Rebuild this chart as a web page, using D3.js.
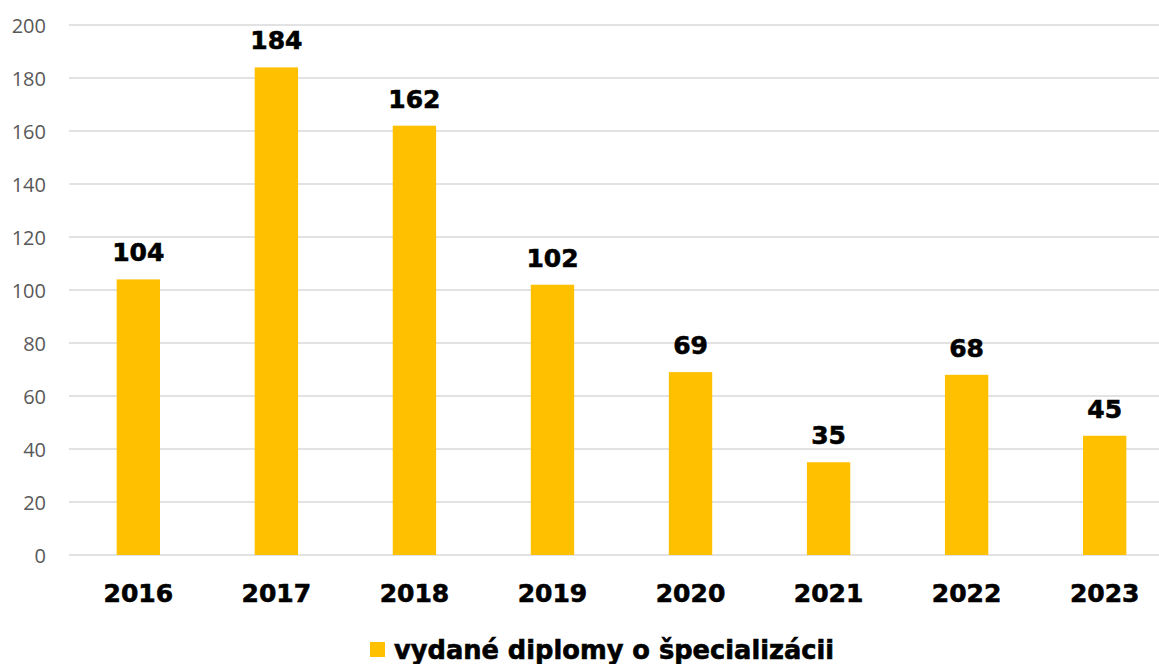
<!DOCTYPE html>
<html><head><meta charset="utf-8">
<script src="https://cdn.jsdelivr.net/npm/d3@7"></script>
<style>body{margin:0;background:#fff;overflow:hidden}svg{display:block}</style>
</head><body>
<script>
const categories = ["2016","2017","2018","2019","2020","2021","2022","2023"];
const values = [104,184,162,102,69,35,68,45];
const yTicks = [0,20,40,60,80,100,120,140,160,180,200];
const seriesName = "vydané diplomy o špecializácii";

const W = 1159, H = 664;
const svg = d3.select("body").append("svg").attr("width", W).attr("height", H);

const x = d3.scaleBand().domain(categories).range([69.3, 1173.7]).paddingInner(0).paddingOuter(0);
const y = d3.scaleLinear().domain([0, 200]).range([555, 25]);
const barW = x.bandwidth() * 0.314;

// gridlines
svg.append("g").selectAll("line").data(yTicks).join("line")
  .attr("x1", 69).attr("x2", W)
  .attr("y1", d => y(d)).attr("y2", d => y(d))
  .attr("stroke", "#d9d9d9").attr("stroke-width", 1.5);

// y axis labels
const yAxis = d3.axisLeft(y).tickValues(yTicks).tickSize(0).tickPadding(0);
const ya = svg.append("g").attr("transform", "translate(46,0)").call(yAxis);
ya.select(".domain").remove();
ya.selectAll("text").attr("font-family", "'Open Sans', sans-serif").attr("font-size", 20)
  .attr("fill", "#595959").attr("text-anchor", "end").attr("dy", "0.36em");

// bars
svg.append("g").selectAll("rect").data(values).join("rect")
  .attr("x", (d, i) => x(categories[i]) + x.bandwidth() / 2 - barW / 2)
  .attr("width", barW)
  .attr("y", d => y(d))
  .attr("height", d => y(0) - y(d))
  .attr("fill", "#ffc000");

const boldText = sel => sel.attr("font-family", "'DejaVu Sans', sans-serif").attr("font-weight", "bold")
  .attr("fill", "#000").attr("stroke", "#000").attr("stroke-width", 0.6);

// data labels
svg.append("g").selectAll("text").data(values).join("text")
  .attr("x", (d, i) => x(categories[i]) + x.bandwidth() / 2)
  .attr("y", d => y(d) - 18)
  .attr("text-anchor", "middle")
  .attr("font-size", 25)
  .call(boldText)
  .text(d => d);

// x axis labels
const xAxis = d3.axisBottom(x).tickSize(0).tickPadding(0);
const xa = svg.append("g").attr("transform", "translate(0,602)").call(xAxis);
xa.select(".domain").remove();
xa.selectAll("text").attr("font-size", 25).attr("dy", 0).call(boldText);

// legend
const lg = svg.append("g");
lg.append("rect").attr("x", 370).attr("y", 642).attr("width", 15).attr("height", 15).attr("fill", "#ffc000");
lg.append("text").attr("x", 394).attr("y", 659)
  .attr("font-size", 25.7).call(boldText).text(seriesName);
</script>
</body></html>
